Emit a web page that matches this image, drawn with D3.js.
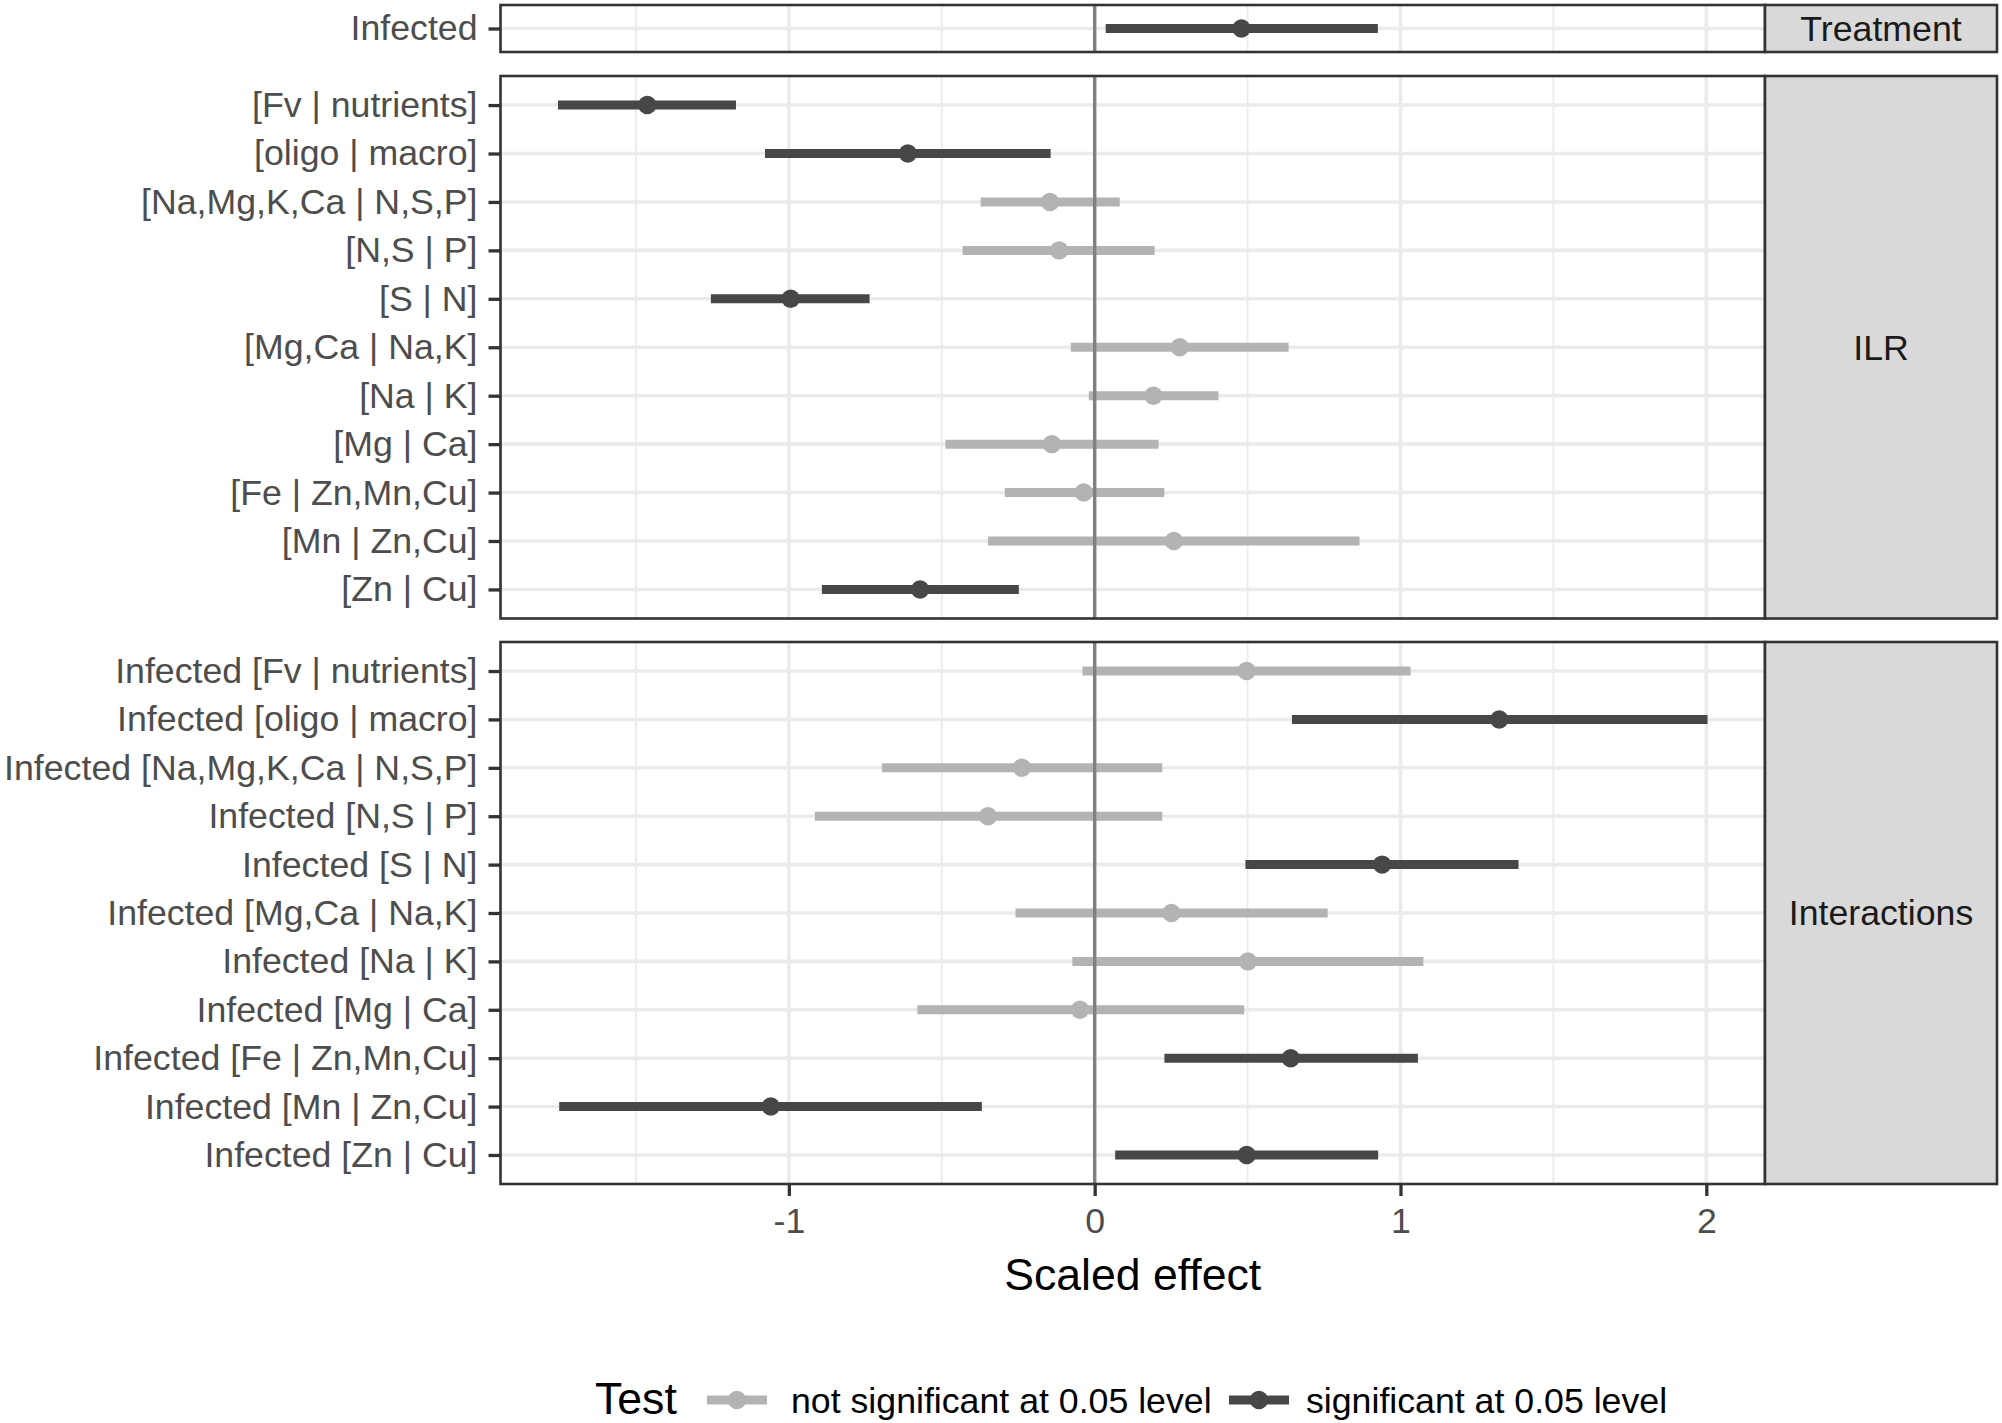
<!DOCTYPE html>
<html>
<head>
<meta charset="utf-8">
<script src="https://cdn.jsdelivr.net/npm/d3@7"></script>
<style>
  body { margin: 0; background: #fff; }
  svg { display: block; font-family: "Liberation Sans", Arial, Helvetica, sans-serif; }
</style>
</head>
<body>
<div id="vis"></div>
<script>
// ---- data ----
const treatmentTerms = ["Infected"];
const treatmentEst  = [0.48];
const treatmentLow  = [0.036];
const treatmentHigh = [0.926];
const treatmentSig  = [true];

const ilrTerms = ["[Fv | nutrients]", "[oligo | macro]", "[Na,Mg,K,Ca | N,S,P]", "[N,S | P]", "[S | N]",
  "[Mg,Ca | Na,K]", "[Na | K]", "[Mg | Ca]", "[Fe | Zn,Mn,Cu]", "[Mn | Zn,Cu]", "[Zn | Cu]"];
const ilrEst  = [-1.463, -0.611, -0.146, -0.116, -0.994, 0.278, 0.192, -0.140, -0.036, 0.259, -0.571];
const ilrLow  = [-1.755, -1.078, -0.373, -0.432, -1.255, -0.078, -0.019, -0.488, -0.294, -0.349, -0.892];
const ilrHigh = [-1.173, -0.144, 0.082, 0.196, -0.736, 0.634, 0.405, 0.209, 0.228, 0.866, -0.248];
const ilrSig  = [true, true, false, false, true, false, false, false, false, false, true];

const interactionTerms = ["Infected [Fv | nutrients]", "Infected [oligo | macro]", "Infected [Na,Mg,K,Ca | N,S,P]",
  "Infected [N,S | P]", "Infected [S | N]", "Infected [Mg,Ca | Na,K]", "Infected [Na | K]", "Infected [Mg | Ca]",
  "Infected [Fe | Zn,Mn,Cu]", "Infected [Mn | Zn,Cu]", "Infected [Zn | Cu]"];
const interactionEst  = [0.497, 1.323, -0.238, -0.349, 0.940, 0.251, 0.501, -0.048, 0.641, -1.059, 0.497];
const interactionLow  = [-0.040, 0.645, -0.696, -0.915, 0.493, -0.259, -0.073, -0.580, 0.228, -1.751, 0.067];
const interactionHigh = [1.033, 2.004, 0.221, 0.221, 1.386, 0.762, 1.075, 0.489, 1.057, -0.369, 0.927];
const interactionSig  = [false, true, false, false, true, false, false, false, true, true, true];

const xTicks = [-1, 0, 1, 2];
const xMinorTicks = [-1.5, -0.5, 0.5, 1.5];
const legendLabels = ["not significant at 0.05 level", "significant at 0.05 level"];

// ---- layout ----
const W = 2002, H = 1423;
const plotLeft = 500.5, plotRight = 1765, stripRight = 1997;
const fontAxis = 35.7, fontTitle = 44.6;
const colSig = "#474747", colNs = "#b3b3b3";

const panels = [
  {strip: "Treatment", terms: treatmentTerms, est: treatmentEst, lo: treatmentLow, hi: treatmentHigh, sig: treatmentSig, top: 5, bottom: 52},
  {strip: "ILR", terms: ilrTerms, est: ilrEst, lo: ilrLow, hi: ilrHigh, sig: ilrSig, top: 76, bottom: 618.5},
  {strip: "Interactions", terms: interactionTerms, est: interactionEst, lo: interactionLow, hi: interactionHigh, sig: interactionSig, top: 642, bottom: 1184}
];

const svg = d3.select("#vis").append("svg")
  .attr("width", W).attr("height", H);

svg.append("rect").attr("width", W).attr("height", H).attr("fill", "#fff");

// shared x scale with ggplot-like 5% expansion
const minLo = d3.min(panels, p => d3.min(p.lo));
const maxHi = d3.max(panels, p => d3.max(p.hi));
const pad = (maxHi - minLo) * 0.05;
const x = d3.scaleLinear().domain([minLo - pad, maxHi + pad]).range([plotLeft, plotRight]);

panels.forEach(p => {
  const g = svg.append("g").attr("class", "panel");
  const y = d3.scalePoint().domain(p.terms).range([p.top, p.bottom]).padding(0.6);
  const rows = p.terms.map((t, i) => ({term: t, est: p.est[i], lo: p.lo[i], hi: p.hi[i], sig: p.sig[i]}));

  // grid
  g.selectAll(".minor").data(xMinorTicks).enter().append("line")
    .attr("x1", d => x(d)).attr("x2", d => x(d))
    .attr("y1", p.top).attr("y2", p.bottom)
    .attr("stroke", "#ebebeb").attr("stroke-width", 1.8);
  g.selectAll(".majorx").data(xTicks).enter().append("line")
    .attr("x1", d => x(d)).attr("x2", d => x(d))
    .attr("y1", p.top).attr("y2", p.bottom)
    .attr("stroke", "#ebebeb").attr("stroke-width", 3.6);
  g.selectAll(".majory").data(p.terms).enter().append("line")
    .attr("x1", plotLeft).attr("x2", plotRight)
    .attr("y1", d => y(d)).attr("y2", d => y(d))
    .attr("stroke", "#ebebeb").attr("stroke-width", 3.6);

  // intervals and estimates
  g.selectAll(".seg").data(rows).enter().append("line")
    .attr("x1", d => x(d.lo)).attr("x2", d => x(d.hi))
    .attr("y1", d => y(d.term)).attr("y2", d => y(d.term))
    .attr("stroke", d => d.sig ? colSig : colNs)
    .attr("stroke-width", 9);
  g.selectAll(".pt").data(rows).enter().append("circle")
    .attr("cx", d => x(d.est)).attr("cy", d => y(d.term)).attr("r", 9.2)
    .attr("fill", d => d.sig ? colSig : colNs);

  // reference line at zero
  g.append("line")
    .attr("x1", x(0)).attr("x2", x(0))
    .attr("y1", p.top).attr("y2", p.bottom)
    .attr("stroke", "#808080").attr("stroke-width", 3.4);

  // border
  g.append("rect")
    .attr("x", plotLeft).attr("y", p.top)
    .attr("width", plotRight - plotLeft).attr("height", p.bottom - p.top)
    .attr("fill", "none").attr("stroke", "#333").attr("stroke-width", 2.6);

  // strip
  g.append("rect")
    .attr("x", plotRight).attr("y", p.top)
    .attr("width", stripRight - plotRight).attr("height", p.bottom - p.top)
    .attr("fill", "#d9d9d9").attr("stroke", "#333").attr("stroke-width", 2.6);
  g.append("text")
    .attr("x", (plotRight + stripRight) / 2).attr("y", (p.top + p.bottom) / 2)
    .attr("dy", "0.35em").attr("text-anchor", "middle")
    .attr("font-size", fontAxis).attr("fill", "#1a1a1a")
    .text(p.strip);

  // y axis
  const ax = g.append("g")
    .attr("transform", `translate(${plotLeft},0)`)
    .call(d3.axisLeft(y).tickSize(12).tickPadding(11));
  ax.select(".domain").remove();
  ax.selectAll(".tick line").attr("stroke", "#333").attr("stroke-width", 3.3);
  ax.selectAll(".tick text").attr("font-size", fontAxis).attr("fill", "#4d4d4d")
    .attr("font-family", "Liberation Sans, Arial, Helvetica, sans-serif");
});

// x axis under last panel
const lastBottom = panels[panels.length - 1].bottom;
const xa = svg.append("g")
  .attr("transform", `translate(0,${lastBottom})`)
  .call(d3.axisBottom(x).tickValues(xTicks).tickFormat(d => String(d)).tickSize(12).tickPadding(12));
xa.select(".domain").remove();
xa.selectAll(".tick line").attr("stroke", "#333").attr("stroke-width", 3.3);
xa.selectAll(".tick text").attr("font-size", fontAxis).attr("fill", "#4d4d4d")
  .attr("font-family", "Liberation Sans, Arial, Helvetica, sans-serif");

svg.append("text")
  .attr("x", (plotLeft + plotRight) / 2).attr("y", 1290)
  .attr("text-anchor", "middle").attr("font-size", fontTitle).attr("fill", "#000")
  .text("Scaled effect");

// legend
const legY = 1400;
svg.append("text").attr("x", 595).attr("y", 1414)
  .attr("font-size", fontTitle).attr("fill", "#000").text("Test");

const legendItems = [
  {label: legendLabels[0], color: colNs, keyX: 707, textX: 791},
  {label: legendLabels[1], color: colSig, keyX: 1229, textX: 1306}
];
const lg = svg.append("g").attr("class", "legend");
legendItems.forEach(it => {
  lg.append("line")
    .attr("x1", it.keyX).attr("x2", it.keyX + 60)
    .attr("y1", legY).attr("y2", legY)
    .attr("stroke", it.color).attr("stroke-width", 9);
  lg.append("circle")
    .attr("cx", it.keyX + 30).attr("cy", legY).attr("r", 9.2)
    .attr("fill", it.color);
  lg.append("text")
    .attr("x", it.textX).attr("y", 1413)
    .attr("font-size", fontAxis).attr("fill", "#000")
    .text(it.label);
});
</script>
</body>
</html>
